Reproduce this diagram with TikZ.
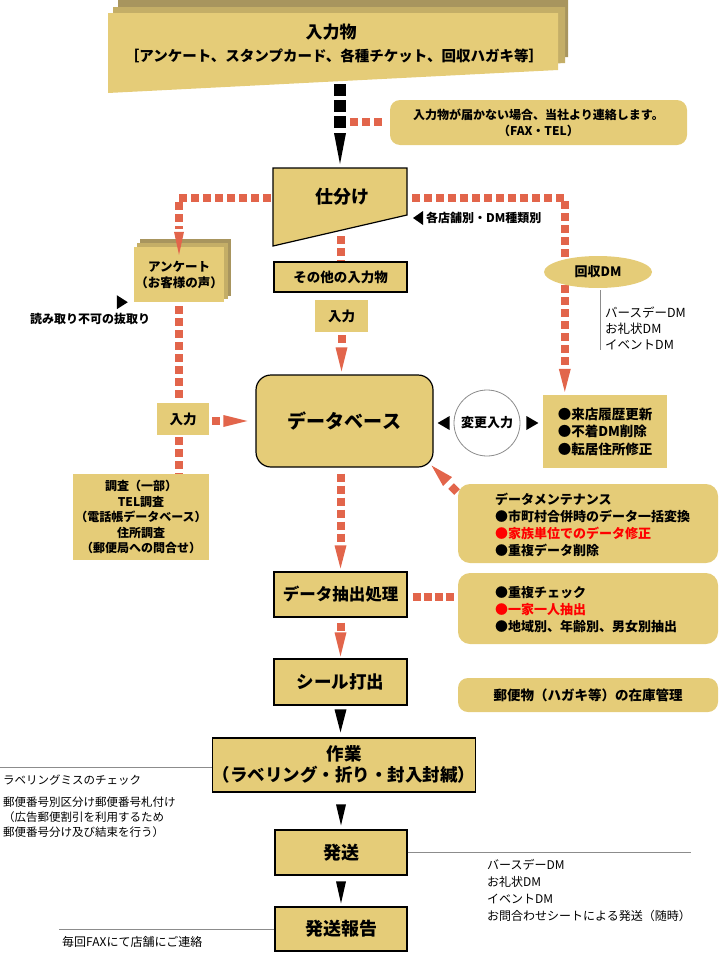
\documentclass[tikz,border=0pt]{standalone}
\usepackage{fontspec}
\setmainfont{Noto Sans CJK JP}
\usetikzlibrary{calc,shapes.geometric}
\definecolor{gold}{HTML}{E5CC78}
\definecolor{goldm}{HTML}{C4AE67}
\definecolor{goldd}{HTML}{A8955E}
\definecolor{salmon}{HTML}{E2654B}
\definecolor{glin}{HTML}{8C8C8C}
\begin{document}
\begin{tikzpicture}[x=1pt,y=-1pt,
 box/.style={draw=black,line width=1.2pt,fill=gold,inner sep=0pt,align=center},
 pbox/.style={fill=gold,inner sep=0pt,align=center},
 rbox/.style={fill=gold,inner sep=0pt,rounded corners=12pt},
 sd/.style={draw=salmon,line width=8pt,dash pattern=on 8pt off 4pt},
 bd/.style={draw=black,line width=12pt,dash pattern=on 12pt off 4pt},
 gl/.style={draw=glin,line width=0.9pt},
 txt/.style={inner sep=0pt,align=left}
]
\useasboundingbox (0,0) rectangle (720,953);

% ---------- top stacked box ----------
\fill[goldd] (118,-2) -- (568,-2) -- (568,57) -- (118,80) -- cycle;
\fill[goldm] (113,7) -- (565,7) -- (565,63) -- (113,87) -- cycle;
\fill[gold] (108,13) -- (558,13) -- (558,70) -- (108,93) -- cycle;
\node[inner sep=0pt,font=\bfseries\fontsize{17}{20}\selectfont] (title) at (331,32) {入力物};
\node[inner sep=0pt,font=\bfseries\fontsize{14.5}{18}\selectfont] (subtitle) at (334,56) {［アンケート、スタンプカード、各種チケット、回収ハガキ等］};
\coordinate (inbot) at (340,84);

% ---------- note ----------
\node[pbox,rounded corners=10pt,minimum width=297pt,minimum height=45pt,font=\bfseries\fontsize{12}{16}\selectfont] (note) at (538.5,122.5) {入力物が届かない場合、当社より連絡します。\\（FAX・TEL）};

% ---------- shiwake trapezoid ----------
\filldraw[fill=gold,draw=black,line width=1.2pt] (273,168) -- (407,168) -- (407,215) -- (273,246) -- cycle;
\node[inner sep=0pt,font=\bfseries\fontsize{18}{22}\selectfont] (shiwake) at (342,197) {仕分け};
\coordinate (swtop) at (340,168);
\coordinate (swL) at (273,198);
\coordinate (swR) at (407,198);
\coordinate (swB) at (340.5,236);

% black arrow to shiwake
\draw[bd] (inbot) -- ($(inbot)+(0,44)$);
\fill[black] ($(swtop)+(0,-4)$) -- ++(-6,-31) -- ++(12,0) -- cycle;
% dashes to note
\draw[sd] ($(inbot)+(10,38)$) -- ($(note.west)+(-4,-0.5)$);

% ---------- anketo stacked box ----------
\fill[goldd] (140,239) rectangle (231,296);
\fill[goldm] (137,243) rectangle (228,299);
\node[pbox,minimum width=90pt,minimum height=55pt,font=\bfseries\fontsize{12.5}{16}\selectfont] (anq) at (179,274.5) {アンケート\\（お客様の声）};

% left route
\draw[sd] ($(swL)+(-2,0)$) -| ($(anq.north)+(0,-18)$);
\fill[salmon] ($(anq.north)+(0,8)$) -- ++(-5,-23) -- ++(10,0) -- cycle;

% yomitori
\node[txt,font=\bfseries\fontsize{12}{15}\selectfont] (yomi) at (90,319) {読み取り不可の抜取り};
\fill[black] ($(anq.south west)+(-6,0)$) -- ++(-11,-7) -- ++(0,14) -- cycle;

% ---------- other boxes ----------
\node[box,minimum width=133pt,minimum height=30pt,font=\bfseries\fontsize{13.5}{16}\selectfont] (sonota) at (340.5,277) {その他の入力物};
\node[pbox,minimum width=53pt,minimum height=32pt,font=\bfseries\fontsize{13.5}{16}\selectfont] (nyuM) at (341.5,316) {入力};
\node[box,rounded corners=15pt,minimum width=177pt,minimum height=92pt,font=\bfseries\fontsize{19}{22}\selectfont] (db) at (344.5,421) {データベース};
\node[pbox,minimum width=52pt,minimum height=32pt,font=\bfseries\fontsize{13.5}{16}\selectfont] (nyuL) at (183,419) {入力};
\node[pbox,minimum width=136pt,minimum height=86pt,font=\bfseries\fontsize{12}{15.5}\selectfont] (chosa) at (141,517) {調査（一部）\\TEL調査\\（電話帳データベース）\\住所調査\\（郵便局への問合せ）};
\node[pbox,minimum width=124pt,minimum height=73pt] (raiten) at (605,431.5) {};
\node[txt,font=\bfseries\fontsize{13.5}{17.5}\selectfont] (raitentxt) at (raiten) {●来店履歴更新\\●不着DM削除\\●転居住所修正};
\node[draw=glin,line width=0.8pt,fill=white,circle,minimum size=66pt,inner sep=0pt,font=\bfseries\fontsize{13}{16}\selectfont] (henko) at (487,423) {変更入力};

% shiwake -> sonota
\draw[sd] (swB) -- (sonota.north);
% nyuM -> db
\draw[sd] ($(nyuM.south)+(0,3)$) -- ++(0,8);
\fill[salmon] ($(nyuM.south |- db.north)+(0,-3)$) -- ++(-6,-24) -- ++(12,0) -- cycle;

% right route
\draw[sd] ($(swR)+(5,0)$) -| ($(raiten.north west)+(22,-27)$);
\fill[salmon] ($(raiten.north west)+(22,-3)$) -- ++(-6,-23) -- ++(12,0) -- cycle;
\node[pbox,ellipse,minimum width=108pt,minimum height=32pt,font=\bfseries\fontsize{13}{16}\selectfont] (kaishu) at (598,272) {回収DM};
\draw[gl] ($(kaishu.south)+(2,2)$) -- ++(0,60);
\node[txt,anchor=west,font=\fontsize{12.5}{16}\selectfont] (dmlist) at (605,328) {バースデーDM\\お礼状DM\\イベントDM};

% kakuten label
\fill[black] ($(swR)+(6,20)$) -- ++(10,-7) -- ++(0,14) -- cycle;
\node[txt,anchor=west,font=\bfseries\fontsize{12}{15}\selectfont] (kakuten) at ($(swR)+(19,20)$) {各店舗別・DM種類別};

% anq -> nyuL -> chosa, nyuL -> db
\draw[sd] ($(anq.south)+(0,4)$) -- ($(anq.south |- nyuL.north)+(0,-1)$);
\draw[sd] ($(anq.south |- nyuL.south)+(0,2)$) -- (anq.south |- chosa.north);
\draw[sd] ($(nyuL.east)+(3,2)$) -- ++(10,0);
\fill[salmon] ($(db.west)+(-8,0)$) -- ++(-24,-6) -- ++(0,12) -- cycle;

% henko triangles
\fill[black] ($(henko.west)+(-16,0)$) -- ++(12,-7) -- ++(0,14) -- cycle;
\fill[black] ($(henko.east)+(18,0)$) -- ++(-12,-7) -- ++(0,14) -- cycle;

% ---------- maintenance ----------
\node[rbox,minimum width=260pt,minimum height=79pt] (maint) at (588,523.5) {};
\node[txt,anchor=west,font=\bfseries\fontsize{13}{17}\selectfont] (mainttxt) at (495,524.5) {データメンテナンス\\●市町村合併時のデータ一括変換\\\textcolor{red}{●家族単位でのデータ修正}\\●重複データ削除};
\coordinate (dbc) at ($(db.south east)+(-2,-2)$);
\fill[salmon] (dbc) -- ($(dbc)+(11.5,20.5)$) -- ($(dbc)+(20.5,11.5)$) -- cycle;
\draw[salmon,line width=8pt] ($(dbc)+(19.5,20.5)$) -- ($(dbc)+(25.5,26.5)$);

% ---------- extraction ----------
\node[box,minimum width=133pt,minimum height=45pt,font=\bfseries\fontsize{16.5}{20}\selectfont] (extract) at (340.5,594.5) {データ抽出処理};
\draw[sd] ($(db.south -| extract.north)+(0,6)$) -- ++(0,70);
\fill[salmon] ($(extract.north)+(0,-3)$) -- ++(-6,-23) -- ++(12,0) -- cycle;
\node[rbox,minimum width=260pt,minimum height=71pt] (chk) at (588,608.5) {};
\node[txt,anchor=west,font=\bfseries\fontsize{13}{17}\selectfont] (chktxt) at (495,610) {●重複チェック\\\textcolor{red}{●一家一人抽出}\\●地域別、年齢別、男女別抽出};
\draw[salmon,line width=8pt,dash pattern=on 8pt off 3pt] ($(extract.east)+(5,2.5)$) -- ($(extract.east)+(46,2.5)$);

% ---------- seal ----------
\node[box,minimum width=133pt,minimum height=46pt,font=\bfseries\fontsize{17.5}{20}\selectfont] (seal) at (340.5,682) {シール打出};
\draw[sd] ($(extract.south)+(0,5)$) -- ++(0,8);
\fill[salmon] ($(seal.north)+(0,-2)$) -- ++(-6,-24) -- ++(12,0) -- cycle;
\node[rbox,rounded corners=10pt,minimum width=260pt,minimum height=34pt,font=\bfseries\fontsize{13.5}{16}\selectfont] (zaiko) at (588,695) {郵便物（ハガキ等）の在庫管理};

% ---------- work ----------
\node[box,minimum width=258pt,minimum height=54pt,font=\bfseries\fontsize{17.5}{21}\selectfont] (sagyo) at (344,765) {作業\\（ラベリング・折り・封入封緘）};
\fill[black] ($(seal.south |- sagyo.north)+(0,-5)$) -- ++(-6,-23) -- ++(12,0) -- cycle;
\node[box,minimum width=132pt,minimum height=45pt,font=\bfseries\fontsize{18}{21}\selectfont] (hasso) at (341,852.5) {発送};
\fill[black] ($(hasso.north)+(0,-4)$) -- ++(-5,-21) -- ++(10,0) -- cycle;
\node[box,minimum width=132pt,minimum height=44pt,font=\bfseries\fontsize{18}{21}\selectfont] (hokoku) at (341,929) {発送報告};
\fill[black] ($(hokoku.north)+(0,-3)$) -- ++(-5,-22) -- ++(10,0) -- cycle;

% gray lines and side notes
\draw[gl] ($(sagyo.west)+(0,2)$) -- ++(-215,0);
\draw[gl] (hasso.east) -- ++(283,0);
\draw[gl] (hokoku.west) -- ++(-215,0);
\node[txt,anchor=west,font=\fontsize{11.5}{15}\selectfont] (labelchk) at (3,780) {ラベリングミスのチェック};
\node[txt,anchor=west,font=\fontsize{11.5}{15}\selectfont] (postal) at (3,817) {郵便番号別区分け郵便番号札付け\\（広告郵便割引を利用するため\\郵便番号分け及び結束を行う）};
\node[txt,anchor=west,font=\fontsize{12}{17}\selectfont] (sendlist) at (487,890.5) {バースデーDM\\お礼状DM\\イベントDM\\お問合わせシートによる発送（随時）};
\node[txt,anchor=west,font=\fontsize{12}{15}\selectfont] (faxnote) at (62,942) {毎回FAXにて店舗にご連絡};
\end{tikzpicture}
\end{document}
